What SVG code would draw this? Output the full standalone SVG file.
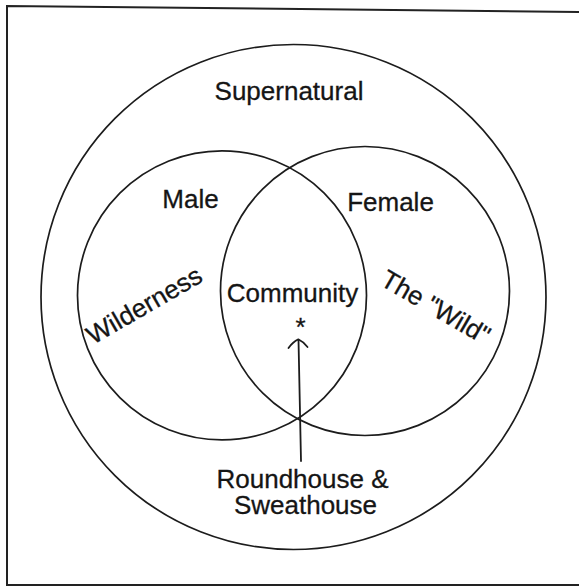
<svg xmlns="http://www.w3.org/2000/svg" width="579" height="587" viewBox="0 0 579 587">
  <style>
    .ring { fill: none; stroke: #1c1c1c; stroke-width: 1.7; }
    .lbl { font-family: "Liberation Sans", Arial, Helvetica, sans-serif; font-size: 26px; fill: #151515; stroke: #151515; stroke-width: 0.3; }
    .mid { text-anchor: middle; }
    .conn { fill: none; stroke: #1c1c1c; stroke-width: 1.8; stroke-linecap: round; stroke-linejoin: round; }
  </style>
  <rect x="0" y="0" width="579" height="587" fill="#ffffff"/>
  <path id="frame" d="M579,12 L7,6 L7,585 L579,585" fill="none" stroke="#222" stroke-width="2"/>

  <g id="supernatural">
    <circle class="ring" cx="293.5" cy="297" r="252.5"/>
    <text class="lbl mid" x="289" y="100">Supernatural</text>
  </g>

  <g id="male">
    <circle class="ring" cx="222" cy="295.4" r="144.5"/>
    <text class="lbl mid" x="190.5" y="207.5">Male</text>
    <text class="lbl" transform="translate(93,345) rotate(-30)">Wilderness</text>
  </g>

  <g id="female">
    <circle class="ring" cx="365" cy="291" r="144.5"/>
    <text class="lbl mid" x="390.5" y="211">Female</text>
    <text class="lbl" transform="translate(379,284.6) rotate(30)">The "Wild"</text>
  </g>

  <g id="community">
    <text class="lbl mid" x="292.5" y="302">Community</text>
    <text class="lbl mid" x="300.5" y="336" style="font-size:26px">*</text>
  </g>

  <g id="roundhouse">
    <text class="lbl mid" x="302.5" y="487.5">Roundhouse &amp;</text>
    <text class="lbl mid" x="305.5" y="513.5">Sweathouse</text>
  </g>

  <g id="connectors">
    <path class="conn" d="M301,461 L298.5,340"/>
    <path class="conn" d="M288.5,348 Q293,341.5 298.3,339.3 Q303,341.5 307.5,347"/>
  </g>
</svg>
